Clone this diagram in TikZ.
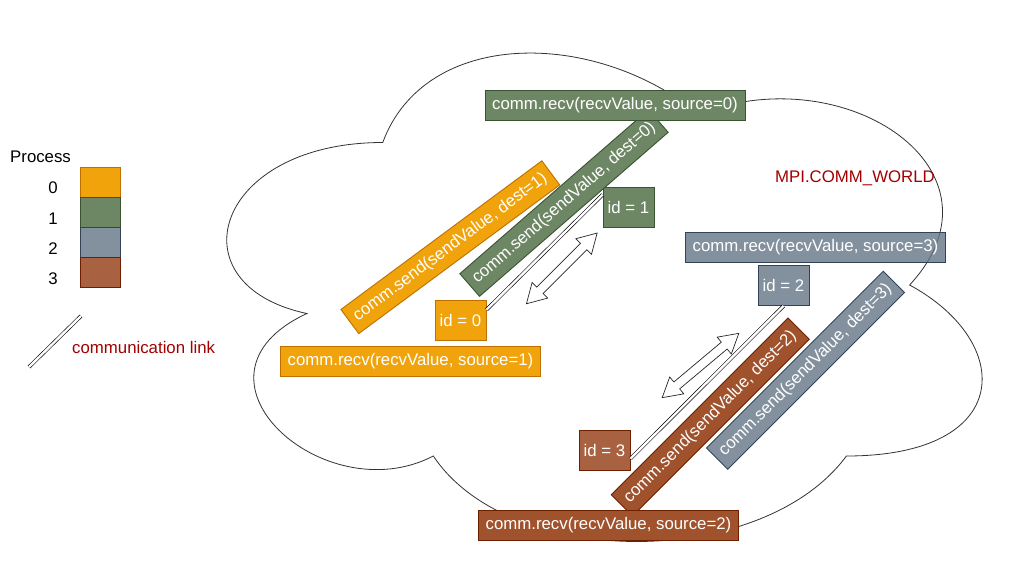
\documentclass[tikz,border=0pt]{standalone}
\usepackage{fontspec}
\setmainfont{Liberation Sans}
\usetikzlibrary{calc}
\definecolor{orF}{HTML}{F0A30A}
\definecolor{orD}{HTML}{BD7000}
\definecolor{grF}{HTML}{6D8764}
\definecolor{grD}{HTML}{3A5431}
\definecolor{slF}{HTML}{647687}
\definecolor{slD}{HTML}{314354}
\definecolor{brF}{HTML}{A0522D}
\definecolor{brD}{HTML}{6D1F00}
\definecolor{labredcol}{HTML}{A20000}
\begin{document}
\begin{tikzpicture}[x=1pt,y=-1pt,
  every node/.style={font=\fontsize{16.8}{20}\selectfont, inner sep=0pt},
  box/.style={draw, line width=0.9pt, text=white, minimum height=30},
  recv/.style={box, minimum width=260},
  sendbox/.style={box, minimum width=250},
  idbox/.style={box, minimum width=51, minimum height=40},
  legbox/.style={draw, line width=0.9pt, minimum width=40, minimum height=30},
  proc0/.style={fill=orF, draw=orD},
  proc1/.style={fill=grF, draw=grD},
  proc2/.style={fill=slF, fill opacity=0.8, text opacity=1, draw=slD},
  proc3/.style={fill=brF, draw=brD},
  proc3l/.style={fill=brF, fill opacity=0.9, text opacity=1, draw=brD},
  link/.style={draw=black, line width=0.6pt, double=white, double distance=2.4pt},
  cloudline/.style={draw=black!80, line width=0.8pt},
  labred/.style={text=labredcol},
  blockarrow/.pic={\draw[line width=0.7pt, draw=black!85, fill=white]
    (-50,0) -- (-31,11) -- (-31,4.5) -- (31,4.5) -- (31,11) -- (50,0)
    -- (31,-11) -- (31,-4.5) -- (-31,-4.5) -- (-31,-11) -- cycle;}
]
\fill[white] (0,0) rectangle (1015,571);
\useasboundingbox (0,0) rectangle (1015,571);

% cloud
\draw[cloudline] (382.75,142.5) .. controls (214.15,142.5) and (172,285) .. (306.88,313.5)
 .. controls (172,376.2) and (323.74,513) .. (433.33,456)
 .. controls (509.2,570) and (762.1,570) .. (846.4,456)
 .. controls (1015,456) and (1015,342) .. (909.6,285)
 .. controls (1015,171) and (846.4,57) .. (698.9,114)
 .. controls (593.5,28.5) and (424.9,28.5) .. (382.75,142.5) -- cycle;

\node[labred] (world) at (855,178) {MPI.COMM\_WORLD};

% legend
\node[anchor=west] (proc) at (10,157) {Process};
\node[legbox, proc0] (leg0) at (100,182) {};
\node[legbox, proc1] (leg1) at (100,212) {};
\node[legbox, proc2] (leg2) at (100,242) {};
\node[legbox, proc3l] (leg3) at (100,272) {};
\node (n0) at (53,187.5) {0};
\node (n1) at (53,218.5) {1};
\node (n2) at (53,248.5) {2};
\node (n3) at (53,278.5) {3};
\coordinate (la) at (29,367);
\coordinate (lb) at (81,316);
\draw[link] (la) -- (lb);
\node[labred, anchor=west] (commlink) at (72,347) {communication link};

% id boxes
\node[idbox, proc0] (id0) at (460.5,320) {id = 0};
\node[idbox, proc1] (id1) at (628.5,207) {id = 1};
\node[idbox, proc2] (id2) at (783.5,285.5) {id = 2};
\node[idbox, proc3l] (id3) at (604.5,450.5) {id = 3};

% links
\draw[link] ($(id0.north east)!0.25!(id0.south east)$) -- ($(id1.north west)!0.2!(id1.south west)$);
\draw[link] (id2.south) -- ($(id3.north east)!0.7!(id3.south east)$);

% block arrows
\pic[rotate=45] at (561.8,268.4) {blockarrow};
\pic[rotate=40] at (700.5,365.5) {blockarrow};

% send boxes
\node[sendbox, proc0, rotate=36.5] (send0) at (450.3,247.2) {comm.send(sendValue, dest=1)};
\node[sendbox, proc1, rotate=41] (send1) at (564,203) {comm.send(sendValue, dest=0)};
\node[sendbox, proc2, rotate=45] (send2) at (805.5,370.2) {comm.send(sendValue, dest=3)};
\node[sendbox, proc3, rotate=45] (send3) at (710.3,417) {comm.send(sendValue, dest=2)};

% recv boxes
\node[recv, proc1] (recv1) at (615,105.5) {comm.recv(recvValue, source=0)};
\node[recv, proc0] (recv0) at (410.5,361.5) {comm.recv(recvValue, source=1)};
\node[recv, proc2] (recv2) at (815.5,247) {comm.recv(recvValue, source=3)};
\node[recv, proc3] (recv3) at (608.5,525.5) {comm.recv(recvValue, source=2)};
\end{tikzpicture}
\end{document}
